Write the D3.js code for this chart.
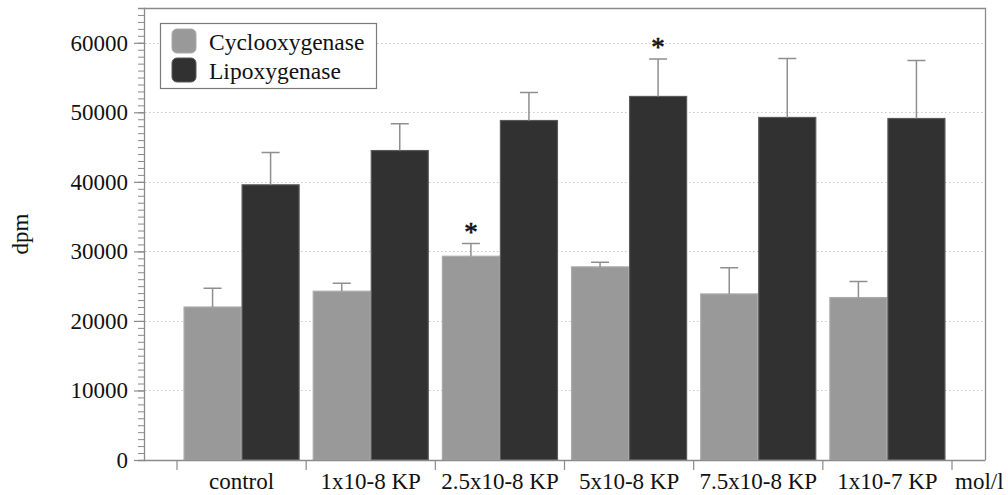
<!DOCTYPE html>
<html><head><meta charset="utf-8">
<script src="https://cdn.jsdelivr.net/npm/d3@7"></script>
<style>
html,body{margin:0;padding:0;background:#fff;}
svg{display:block;font-family:"Liberation Serif","Times New Roman",serif;}
</style></head>
<body>
<svg id="chart" width="1008" height="495"></svg>
<script>
const categories = ["control","1x10-8 KP","2.5x10-8 KP","5x10-8 KP","7.5x10-8 KP","1x10-7 KP"];
const seriesNames = ["Cyclooxygenase","Lipoxygenase"];
const cycloValues = [22000, 24270, 29300, 27770, 23880, 23360];
const cycloErrors = [2700, 1150, 1820, 670, 3750, 2300];
const lipoValues  = [39570, 44500, 48820, 52280, 49260, 49110];
const lipoErrors  = [4650, 3850, 4030, 5370, 8490, 8350];
const significant = [[false,false],[false,false],[true,false],[false,true],[false,false],[false,false]];
const yTicks = [0,10000,20000,30000,40000,50000,60000];
const yMax = 65000;
const yLabel = "dpm";
const unitLabel = "mol/l";

const colors = {Cyclooxygenase:"#999999", Lipoxygenase:"#313131"};
const strokes = {Cyclooxygenase:"#aaaaaa", Lipoxygenase:"#5a5a5a"};
const serif = "'Liberation Serif','Times New Roman',serif";

const rows = categories.map((c,i)=>({
  cat:c,
  vals:[
    {s:"Cyclooxygenase", v:cycloValues[i], e:cycloErrors[i], sig:significant[i][0]},
    {s:"Lipoxygenase", v:lipoValues[i], e:lipoErrors[i], sig:significant[i][1]}
  ]
}));

const svg = d3.select("#chart");
const plotL = 144, plotR = 985, plotT = 8, plotB = 460;

const y = d3.scaleLinear().domain([0,yMax]).range([plotB, plotT]);
const x0 = d3.scaleBand().domain(categories).range([177, 952]).padding(0);
const x1 = d3.scaleBand().domain(seriesNames).range([0, x0.bandwidth()]).paddingInner(0).paddingOuter(0.113);

// gridlines
svg.append("g").selectAll("line").data(yTicks.filter(d=>d>0)).join("line")
  .attr("x1", plotL+1).attr("x2", plotR)
  .attr("y1", d=>Math.round(y(d))+0.5).attr("y2", d=>Math.round(y(d))+0.5)
  .attr("stroke","#c8c8c8").attr("stroke-width",1).attr("stroke-dasharray","1.5,2.5");

// frame top & right
svg.append("path")
  .attr("d", `M${plotL},${plotT+0.5}H${plotR+0.5}V${plotB}`)
  .attr("fill","none").attr("stroke","#8a8a8a").attr("stroke-width",1.3);

// bars
const groups = svg.append("g").selectAll("g").data(rows).join("g")
  .attr("transform", d=>`translate(${x0(d.cat)},0)`);

groups.selectAll("rect").data(d=>d.vals).join("rect")
  .attr("x", d=>x1(d.s)+0.5)
  .attr("y", d=>y(d.v))
  .attr("width", x1.bandwidth()-1)
  .attr("height", d=>plotB - y(d.v))
  .attr("fill", d=>colors[d.s])
  .attr("stroke", d=>strokes[d.s]).attr("stroke-width",1.2);

// error bars
const capW = 18;
groups.selectAll("path.err").data(d=>d.vals).join("path").attr("class","err")
  .attr("d", d=>{
    const cx = x1(d.s) + x1.bandwidth()/2;
    const yt = y(d.v + d.e), yb = y(d.v);
    return `M${cx},${yb}V${yt}M${cx-capW/2},${yt}H${cx+capW/2}`;
  })
  .attr("fill","none").attr("stroke","#8f8f8f").attr("stroke-width",1.5);

// significance markers
groups.selectAll("text.sig").data(d=>d.vals.filter(v=>v.sig)).join("text").attr("class","sig")
  .attr("x", d=>x1(d.s) + x1.bandwidth()/2)
  .attr("y", d=>y(d.v + d.e) - 3)
  .attr("text-anchor","middle")
  .attr("font-size",27).attr("font-family",serif).attr("fill","#111")
  .attr("stroke","#111").attr("stroke-width",0.6)
  .text("*");

// y axis minor
svg.append("g").attr("transform",`translate(${plotL},0)`)
  .call(d3.axisLeft(y).tickValues(d3.range(0, yMax+1, 1000)).tickSize(6).tickFormat(""))
  .call(g=>g.selectAll("line").attr("stroke","#8a8a8a"))
  .call(g=>g.select(".domain").attr("stroke","#8a8a8a").attr("stroke-width",1.3));

// y axis major
svg.append("g").attr("transform",`translate(${plotL},0)`)
  .call(d3.axisLeft(y).tickValues(yTicks).tickSize(10).tickPadding(6).tickFormat(d3.format("d")))
  .attr("font-family", serif)
  .call(g=>g.select(".domain").remove())
  .call(g=>g.selectAll("line").attr("stroke","#8a8a8a").attr("stroke-width",1.2))
  .call(g=>g.selectAll("text").attr("font-size",23).attr("fill","#111").attr("font-family",serif));

// x axis
const xTickPos = categories.map(c=>x0(c)).concat([x0(categories[categories.length-1]) + x0.bandwidth()]);
const xg = svg.append("g");
xg.append("line").attr("x1",plotL).attr("x2",plotR+0.5).attr("y1",plotB+0.5).attr("y2",plotB+0.5)
  .attr("stroke","#8a8a8a").attr("stroke-width",1.3);
xg.selectAll("line.tick").data(xTickPos).join("line").attr("class","tick")
  .attr("x1",d=>d).attr("x2",d=>d).attr("y1",plotB).attr("y2",plotB+10)
  .attr("stroke","#8a8a8a").attr("stroke-width",1.2);
xg.selectAll("text.cat").data(categories).join("text").attr("class","cat")
  .attr("x", d=>x0(d)+x0.bandwidth()/2).attr("y", 489)
  .attr("text-anchor","middle").attr("font-size",23).attr("fill","#111")
  .text(d=>d);
xg.append("text").attr("x", xTickPos[xTickPos.length-1] + 3).attr("y", 489)
  .attr("font-size",23).attr("fill","#111").text(unitLabel);

// y label
svg.append("text").attr("transform",`translate(28,${(plotT+plotB)/2}) rotate(-90)`)
  .attr("text-anchor","middle").attr("font-size",23).attr("fill","#111").text(yLabel);

// legend
const lg = svg.append("g").attr("transform","translate(160,23)");
lg.append("rect").attr("x",0.5).attr("y",0.5).attr("width",216).attr("height",65)
  .attr("fill","#fff").attr("stroke","#7a7a7a").attr("stroke-width",1.2);
const li = lg.selectAll("g").data(seriesNames).join("g")
  .attr("transform",(d,i)=>`translate(12,${6 + i*29})`);
li.append("rect").attr("width",24).attr("height",24).attr("rx",5)
  .attr("fill",d=>colors[d]).attr("stroke",d=>strokes[d]).attr("stroke-width",1);
li.append("text").attr("x",37).attr("y",21).attr("font-size",23.5).attr("fill","#111").text(d=>d);
</script>
</body></html>
